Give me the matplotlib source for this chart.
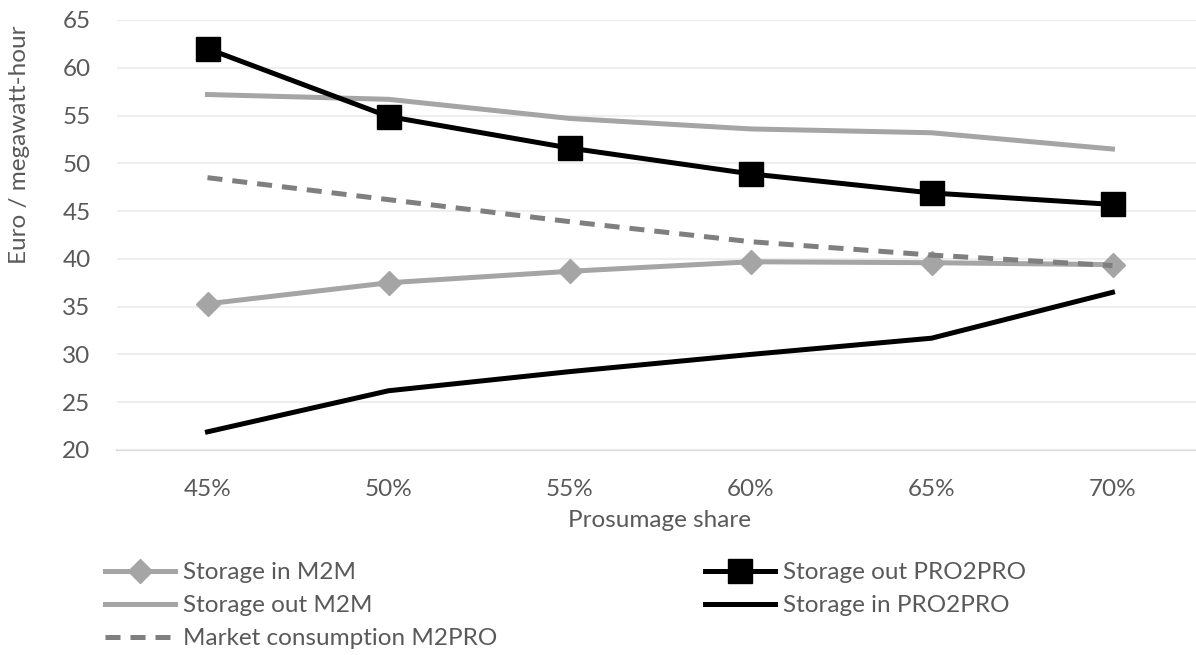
import matplotlib.pyplot as plt

shares = ['45%', '50%', '55%', '60%', '65%', '70%']
storage_in_m2m = [35.3, 37.5, 38.7, 39.7, 39.6, 39.4]
storage_out_m2m = [57.2, 56.7, 54.7, 53.6, 53.2, 51.5]
market_m2pro = [48.5, 46.2, 43.9, 41.8, 40.4, 39.3]
storage_out_pro = [62.0, 54.9, 51.6, 48.9, 46.9, 45.7]
storage_in_pro = [21.9, 26.2, 28.2, 30.0, 31.7, 36.5]

plt.rcParams['font.family'] = ['Lato', 'DejaVu Sans']
txt = '#595959'
fs = 17.5

W, H = 1196, 655
fig = plt.figure(figsize=(W / 100, H / 100), dpi=100)
ax = fig.add_axes([117 / W, 1 - 450 / H, 1086 / W, 430 / H])

x = list(range(len(shares)))
lw = 3.6

l1, = ax.plot(x, storage_in_m2m, color='#a5a5a5', lw=lw, marker='D', markersize=12,
              label='Storage in M2M', zorder=3)
l2, = ax.plot(x, storage_out_m2m, color='#a5a5a5', lw=lw, label='Storage out M2M', zorder=3)
l3, = ax.plot(x, market_m2pro, color='#7f7f7f', lw=lw, linestyle=(0, (3, 2)),
              dash_capstyle='butt', label='Market consumption M2PRO', zorder=4)
l4, = ax.plot(x, storage_out_pro, color='black', lw=lw, marker='s', markersize=17,
              label='Storage out PRO2PRO', zorder=5)
l5, = ax.plot(x, storage_in_pro, color='black', lw=lw, label='Storage in PRO2PRO', zorder=5)

ax.set_xlim(-0.5, 5.5)
ax.set_ylim(20, 65)
ax.set_yticks(range(20, 70, 5))
ax.set_xticks(x)
ax.set_xticklabels(shares)
ax.tick_params(axis='both', length=0, labelsize=fs, labelcolor=txt)
ax.tick_params(axis='x', pad=21)
ax.tick_params(axis='y', pad=19)

ax.grid(axis='y', color='#eeeeee', lw=1.5, zorder=0)
for s in ['top', 'right', 'left']:
    ax.spines[s].set_visible(False)
ax.spines['bottom'].set_color('#d9d9d9')
ax.spines['bottom'].set_linewidth(1.5)
ax.spines['bottom'].set_zorder(1)

ax.set_xlabel('Prosumage share', fontsize=fs, color=txt, labelpad=7)
fig.text(20 / W, 1 - 145 / H, 'Euro / megawatt-hour', rotation=90,
         ha='center', va='center', fontsize=fs, color=txt)

leg_kw = dict(loc='upper left', frameon=False, fontsize=fs, labelcolor=txt,
              handlelength=2.9, handletextpad=0.3, labelspacing=0.5,
              borderaxespad=0, borderpad=0)
fig.legend(handles=[l1, l2, l3], bbox_to_anchor=(105 / W, 1 - 562 / H), **leg_kw)
fig.legend(handles=[l4, l5], bbox_to_anchor=(705 / W, 1 - 562 / H), **leg_kw)

fig.savefig('out.png', dpi=100)
